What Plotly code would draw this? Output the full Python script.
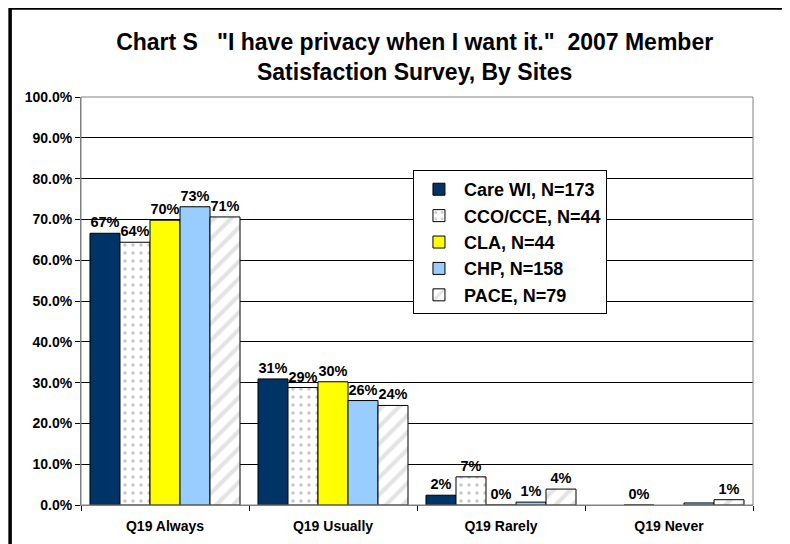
import plotly.graph_objects as go

categories = ["Q19 Always", "Q19 Usually", "Q19 Rarely", "Q19 Never"]
series_names = ["Care WI, N=173", "CCO/CCE, N=44", "CLA, N=44", "CHP, N=158", "PACE, N=79"]
care_wi = [66.6, 30.9, 2.4, None]
cco_cce = [64.4, 28.8, 6.9, 0.0]
cla = [69.8, 30.2, 0.0, None]
chp = [73.1, 25.6, 0.7, 0.5]
pace = [70.6, 24.4, 3.9, 1.3]
care_wi_labels = ["67%", "31%", "2%", ""]
cco_cce_labels = ["64%", "29%", "7%", "0%"]
cla_labels = ["70%", "30%", "0%", ""]
chp_labels = ["73%", "26%", "1%", ""]
pace_labels = ["71%", "24%", "4%", "1%"]
y_ticks = [0, 10, 20, 30, 40, 50, 60, 70, 80, 90, 100]
y_tick_labels = ["0.0%", "10.0%", "20.0%", "30.0%", "40.0%", "50.0%", "60.0%", "70.0%", "80.0%", "90.0%", "100.0%"]

FONT = "Arial, Liberation Sans, sans-serif"
styles = [
    dict(color="#003366"),
    dict(color="white", pattern=dict(shape=".", fgcolor="#909090", bgcolor="white", size=8, solidity=0.15)),
    dict(color="#FFFF00"),
    dict(color="#99CCFF"),
    dict(color="white", pattern=dict(shape="/", fgcolor="#C8C8C8", bgcolor="white", size=12, solidity=0.35)),
]
values = [care_wi, cco_cce, cla, chp, pace]
labels = [care_wi_labels, cco_cce_labels, cla_labels, chp_labels, pace_labels]

fig = go.Figure()
for name, vals, labs, st in zip(series_names, values, labels, styles):
    marker = dict(st)
    marker["line"] = dict(color="black", width=1)
    fig.add_trace(go.Bar(
        name=name, x=categories, y=vals, text=labs,
        textposition="outside", cliponaxis=False,
        textfont=dict(family=FONT, size=14.5, color="black", weight="bold"),
        marker=marker,
    ))

# page body has an 8px margin: figure sized to fit the 790x544 window
fig.update_layout(
    width=782, height=536,
    barmode="group", bargap=0.107, bargroupgap=0,
    paper_bgcolor="white", plot_bgcolor="white",
    margin=dict(l=73, r=37, t=89, b=39, autoexpand=False),
    font=dict(family=FONT, color="black"),
    title=dict(
        text="<b>Chart S   \"I have privacy when I want it.\"  2007 Member<br>Satisfaction Survey, By Sites</b>",
        x=0.52, xanchor="center", y=0.9217, yanchor="middle",
        font=dict(size=23, color="black"),
    ),
    legend=dict(
        x=0.494, y=0.821, xanchor="left", yanchor="top",
        bgcolor="white", bordercolor="black", borderwidth=1,
        font=dict(size=18, color="black", weight="bold"),
        itemwidth=40,
    ),
    showlegend=True,
)
fig.update_yaxes(
    range=[0, 100], tickvals=y_ticks, ticktext=y_tick_labels,
    showgrid=True, gridcolor="black", gridwidth=1,
    showline=True, linecolor="#808080", linewidth=1,
    ticks="outside", ticklen=5, tickcolor="black",
    tickfont=dict(size=14, weight="bold"), zeroline=False,
)
fig.update_xaxes(
    showline=True, linecolor="#808080", linewidth=1,
    ticks="outside", tickson="boundaries", ticklen=5, tickcolor="black",
    tickfont=dict(size=14, weight="bold"), ticklabelstandoff=8,
)
# plot area border (top & right, gray)
fig.add_shape(type="rect", xref="paper", yref="paper", x0=0, x1=1, y0=0, y1=1,
              line=dict(color="#808080", width=1), layer="above")
# outer chart border
fig.add_shape(type="rect", xref="paper", yref="paper", x0=-0.1055, x1=1.12, y0=-0.2, y1=1.218,
              line=dict(color="black", width=3.5))
fig.write_html("out.html")
